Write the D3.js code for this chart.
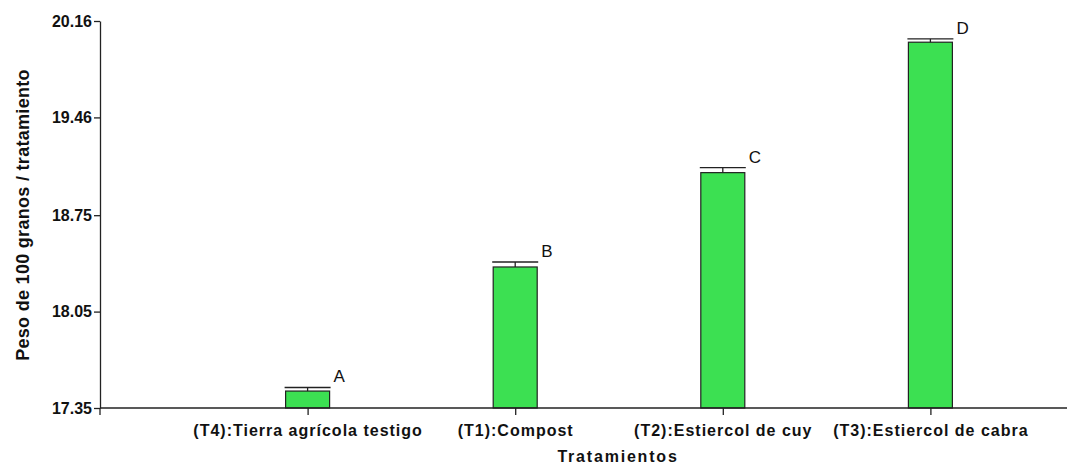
<!DOCTYPE html>
<html>
<head>
<meta charset="utf-8">
<script src="https://cdn.jsdelivr.net/npm/d3@7"></script>
<style>
  html, body { margin: 0; padding: 0; background: #fff; }
  svg { display: block; font-family: "Liberation Sans", Arial, sans-serif; }
</style>
</head>
<body>
<svg id="chart" width="1067" height="465"></svg>
<script>
// Treatments and mean weight of 100 grains, with error and significance group
const categories = ["(T4):Tierra agrícola testigo", "(T1):Compost", "(T2):Estiercol de cuy", "(T3):Estiercol de cabra"];
const means = [17.473, 18.374, 19.059, 20.006];
const errors = [0.026, 0.036, 0.036, 0.024];
const groups = ["A", "B", "C", "D"];
const yTicks = [17.35, 18.05, 18.75, 19.46, 20.16];

const svg = d3.select("#chart");
const plotLeft = 100, plotRight = 1067, plotTop = 21, plotBottom = 408;

const y = d3.scaleLinear().domain([17.35, 20.16]).range([plotBottom, plotTop]);
// categories sit one step in from the y axis, evenly spaced
const step = 207.6;
const x = d3.scalePoint().domain(categories)
  .range([plotLeft + step, plotLeft + step * categories.length]);
const barW = 44;

// bars
svg.append("g").selectAll("rect").data(categories).join("rect")
  .attr("x", d => x(d) - barW / 2)
  .attr("y", (d, i) => y(means[i]))
  .attr("width", barW)
  .attr("height", (d, i) => y(17.35) - y(means[i]))
  .attr("fill", "#3ce052")
  .attr("stroke", "#222")
  .attr("stroke-width", 1.2);

// error bars
const eb = svg.append("g").attr("stroke", "#222").attr("stroke-width", 1.3);
categories.forEach((c, i) => {
  const cx = x(c), yt = y(means[i]), ye = y(means[i] + errors[i]);
  eb.append("line").attr("x1", cx).attr("x2", cx).attr("y1", yt).attr("y2", ye);
  eb.append("line").attr("x1", cx - barW / 2 - 1).attr("x2", cx + barW / 2 + 1).attr("y1", ye).attr("y2", ye);
});

// significance letters
svg.append("g").selectAll("text").data(categories).join("text")
  .attr("x", d => x(d) + 26)
  .attr("y", (d, i) => y(means[i] + errors[i]) - 5)
  .attr("font-size", 17)
  .attr("fill", "#111")
  .text((d, i) => groups[i]);

// y axis
const yAxis = svg.append("g")
  .attr("transform", `translate(${plotLeft},0)`)
  .call(d3.axisLeft(y).tickValues(yTicks).tickFormat(d3.format(".2f")).tickSize(6).tickSizeOuter(0));
yAxis.select(".domain").attr("stroke", "#222").attr("stroke-width", 1.3);
yAxis.selectAll(".tick line").attr("stroke", "#222").attr("stroke-width", 1.3);
yAxis.selectAll(".tick text")
  .attr("font-size", 16).attr("font-weight", "bold").attr("fill", "#111")
  .attr("font-family", "Liberation Sans, Arial, sans-serif").attr("x", -8);

// x axis
const xAxis = svg.append("g")
  .attr("transform", `translate(0,${plotBottom})`)
  .call(d3.axisBottom(x).tickSize(7).tickSizeOuter(0));
xAxis.select(".domain").attr("d", `M${plotLeft},0H${plotRight}`).attr("stroke", "#222").attr("stroke-width", 1.3);
xAxis.selectAll(".tick line").attr("stroke", "#222").attr("stroke-width", 1.3);
xAxis.selectAll(".tick text")
  .attr("font-size", 16).attr("font-weight", "bold").attr("fill", "#111")
  .attr("letter-spacing", 1)
  .attr("font-family", "Liberation Sans, Arial, sans-serif").attr("y", 16.5);
// small tick below the origin
svg.append("line").attr("x1", plotLeft).attr("x2", plotLeft).attr("y1", plotBottom).attr("y2", plotBottom + 7)
  .attr("stroke", "#222").attr("stroke-width", 1.3);

// axis titles
svg.append("text")
  .attr("x", 618).attr("y", 462)
  .attr("text-anchor", "middle")
  .attr("font-size", 16).attr("font-weight", "bold").attr("fill", "#111")
  .attr("letter-spacing", 1.8)
  .text("Tratamientos");
svg.append("text")
  .attr("transform", "translate(29,215) rotate(-90)")
  .attr("text-anchor", "middle")
  .attr("font-size", 18).attr("font-weight", "bold").attr("fill", "#111")
  .attr("letter-spacing", 0.3)
  .text("Peso de 100 granos / tratamiento");
</script>
</body>
</html>
